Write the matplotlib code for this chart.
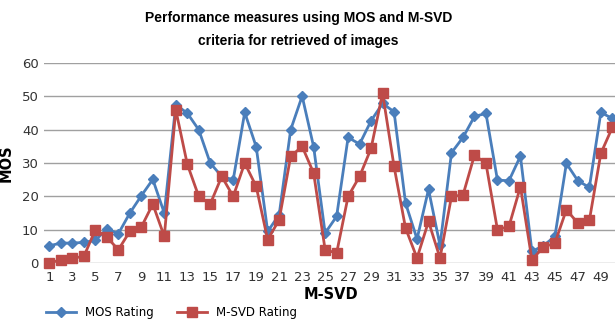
import matplotlib

matplotlib.use('Agg')
import matplotlib.pyplot as plt

# image index 1..50
image_ids = list(range(1, 51))

mos = [5.2, 6, 6, 6.2, 6.8, 10.3, 8.8, 15, 20.2, 25.1,
       15, 47.5, 45, 40, 30, 26, 25, 45.2, 34.9, 9.5,
       14.5, 40, 50.1, 34.9, 9, 14, 37.7, 35.7, 42.7, 47.9,
       45.4, 18, 7.2, 22.1, 5.3, 33.1, 37.7, 44, 44.9, 24.9,
       24.7, 32.1, 3.5, 5.2, 8, 29.9, 24.7, 22.7, 45.2, 43.4]

msvd = [0, 1, 1.5, 2, 10, 7.8, 4, 9.5, 10.8, 17.7,
        8, 46, 29.7, 20, 17.7, 26, 20, 30, 23, 7,
        13, 32, 35, 27, 4, 3, 20, 26, 34.4, 51,
        29, 10.5, 1.5, 12.5, 1.5, 20, 20.4, 32.4, 29.9, 10,
        11, 22.9, 1, 4.8, 6, 16, 12, 12.8, 32.9, 40.7]

xtick_labels = [str(i) for i in range(1, 50, 2)]

BLUE = '#4a7ebb'
RED = '#be4b48'

fig = plt.figure(figsize=(6.15, 3.22), dpi=100)
ax = fig.add_axes([0.071, 0.183, 0.934, 0.621])

ax.plot(image_ids, mos, color=BLUE, linewidth=2.0, marker='D', markersize=5,
        label='MOS Rating', clip_on=False, zorder=3)
ax.plot(image_ids, msvd, color=RED, linewidth=2.0, marker='s', markersize=7,
        label='M-SVD Rating', clip_on=False, zorder=4)

ax.set_xlim(0.5, 50.5)
ax.set_ylim(0, 60)
ax.set_yticks(range(0, 61, 10))
ax.set_xticks(range(1, 50, 2))
ax.set_xticklabels(xtick_labels)
ax.tick_params(axis='both', length=0, labelsize=9.5, colors='#333333')
ax.tick_params(axis='x', pad=6)
ax.grid(axis='y', color='#a0a0a0', linewidth=1.0)
ax.set_axisbelow(True)
for side in ('top', 'right', 'left', 'bottom'):
    ax.spines[side].set_visible(False)

ax.set_xlabel('M-SVD', fontsize=10.5, fontweight='bold', labelpad=2)
ax.set_ylabel('MOS', fontsize=10.5, fontweight='bold', labelpad=6)

title_font = ['Liberation Sans', 'DejaVu Sans']
fig.text(0.485, 0.945, 'Performance measures using MOS and M-SVD',
         ha='center', va='center', fontsize=10, fontweight='bold',
         family=title_font)
fig.text(0.485, 0.872, 'criteria for retrieved of images',
         ha='center', va='center', fontsize=10, fontweight='bold',
         family=title_font)

fig.legend(loc='upper left', bbox_to_anchor=(0.075, 0.05), ncol=2,
           frameon=False, fontsize=8.5, handlelength=2.5, columnspacing=2,
           borderpad=0, borderaxespad=0)

fig.savefig('out.png', dpi=100)
